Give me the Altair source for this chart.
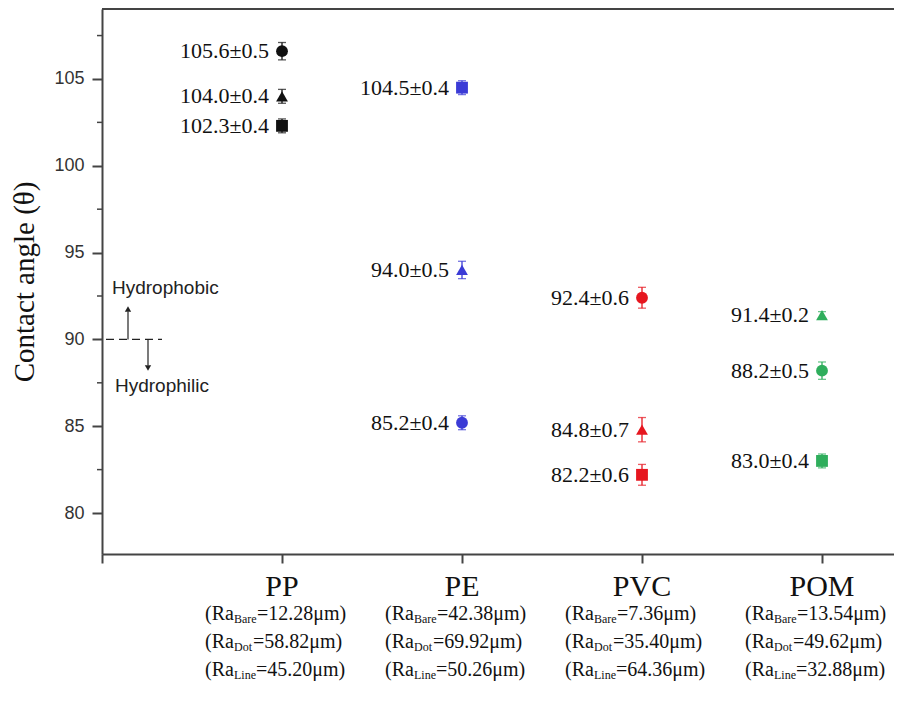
import altair as alt
import pandas as pd

# ---------------- data ----------------
categories = ["PP", "PE", "PVC", "POM"]
positions = [1, 2, 3, 4]
cat_colors = ["#111111", "#3b3bd6", "#e6161f", "#2fae5c"]

circle_y = [106.6, 85.2, 92.4, 88.2]
circle_err = [0.5, 0.4, 0.6, 0.5]
circle_text = ["105.6±0.5", "85.2±0.4", "92.4±0.6", "88.2±0.5"]

triangle_y = [104.0, 94.0, 84.8, 91.4]
triangle_err = [0.4, 0.5, 0.7, 0.2]
triangle_text = ["104.0±0.4", "94.0±0.5", "84.8±0.7", "91.4±0.2"]

square_y = [102.3, 104.5, 82.2, 83.0]
square_err = [0.4, 0.4, 0.6, 0.4]
square_text = ["102.3±0.4", "104.5±0.4", "82.2±0.6", "83.0±0.4"]

ra_bare = ["12.28", "42.38", "7.36", "13.54"]
ra_dot = ["58.82", "69.92", "35.40", "49.62"]
ra_line = ["45.20", "50.26", "64.36", "32.88"]

y_major = [80, 85, 90, 95, 100, 105]
y_minor = [82.5, 87.5, 92.5, 97.5, 102.5, 107.5]
x_ticks = [0, 1, 2, 3, 4]

# ---------------- tables ----------------
rows = []
for shape, ys, es, ts in [("circle", circle_y, circle_err, circle_text),
                          ("triangle-up", triangle_y, triangle_err, triangle_text),
                          ("square", square_y, square_err, square_text)]:
    for c, p, y, e, t in zip(categories, positions, ys, es, ts):
        rows.append({"cat": c, "x": p, "y": y, "lo": y - e, "hi": y + e,
                     "label": t, "shape": shape})
pts = pd.DataFrame(rows)

ra = pd.DataFrame({"cat": categories, "x": positions,
                   "bare": ["=" + v + "μm)" for v in ra_bare],
                   "dot": ["=" + v + "μm)" for v in ra_dot],
                   "line": ["=" + v + "μm)" for v in ra_line],
                   "pre": ["(Ra"] * 4,
                   "sb": ["Bare"] * 4, "sd": ["Dot"] * 4, "sl": ["Line"] * 4})

W, H = 792, 545
SERIF = "Liberation Serif"
SANS = "Liberation Sans"
AX = "#444444"

XS = alt.Scale(domain=[0, W / 180.0], nice=False, zero=False)
YS = alt.Scale(domain=[77.64, 109.03], nice=False, zero=False)

xaxis = alt.Axis(values=x_ticks, labels=False, title=None, tickSize=9,
                 grid=False, domainColor=AX, tickColor=AX, domainWidth=2, tickWidth=2)
yaxis = alt.Axis(values=y_major, title="Contact angle (θ)", titleFont=SERIF,
                 titleFontSize=29, titleFontWeight="normal", titleColor="#111",
                 titlePadding=14, labelFont=SANS, labelFontSize=18, labelColor="#333",
                 labelPadding=8, tickSize=10, grid=False, domainColor=AX, tickColor=AX,
                 domainWidth=2, tickWidth=2)


def X(f="x"):
    return alt.X(f + ":Q", scale=XS, axis=xaxis)


def Y(f="y"):
    return alt.Y(f + ":Q", scale=YS, axis=yaxis)


color = alt.Color("cat:N", scale=alt.Scale(domain=categories, range=cat_colors), legend=None)
shape = alt.Shape("shape:N", scale=alt.Scale(domain=["circle", "triangle-up", "square"],
                                             range=["circle", "triangle-up", "square"]),
                  legend=None)
size = alt.Size("shape:N", scale=alt.Scale(domain=["circle", "triangle-up", "square"],
                                           range=[140, 140, 110]), legend=None)

base = alt.Chart(pts)

err_rule = base.mark_rule(strokeWidth=1.3).encode(x=X(), y=Y("lo"), y2="hi:Q", color=color)
cap_lo = base.mark_tick(orient="horizontal", size=8, thickness=1.3).encode(x=X(), y=Y("lo"), color=color)
cap_hi = base.mark_tick(orient="horizontal", size=8, thickness=1.3).encode(x=X(), y=Y("hi"), color=color)
points = base.mark_point(filled=True, opacity=1).encode(x=X(), y=Y(), color=color, shape=shape, size=size)
labels = base.mark_text(align="right", baseline="middle", dx=-13, font=SERIF,
                        fontSize=22, color="#111").encode(x=X(), y=Y(), text="label:N")

minor = alt.Chart(pd.DataFrame({"y": y_minor})).mark_rule(color=AX, strokeWidth=1.5).encode(
    x=alt.value(-5), x2=alt.value(0), y=Y())

top_border = alt.Chart(pd.DataFrame({"y": [0]})).mark_rule(color=AX, strokeWidth=2).encode(
    x=alt.value(0), x2=alt.value(W), y=alt.value(0))

# hydrophobic / hydrophilic annotation
ann = alt.Chart(pd.DataFrame({"y": [90.0]}))
dash = ann.mark_rule(color="#222", strokeWidth=1.3, strokeDash=[8, 5]).encode(
    x=alt.value(4), x2=alt.value(60), y=Y())
up_shaft = ann.mark_rule(color="#222", strokeWidth=1.2).encode(
    x=alt.value(26), y=Y(), y2=alt.datum(91.6))
up_head = alt.Chart(pd.DataFrame({"y": [91.75]})).mark_point(
    shape="triangle-up", filled=True, size=40, color="#222", opacity=1).encode(x=alt.value(26), y=Y())
dn_shaft = ann.mark_rule(color="#222", strokeWidth=1.2).encode(
    x=alt.value(46), y=Y(), y2=alt.datum(88.5))
dn_head = alt.Chart(pd.DataFrame({"y": [88.35]})).mark_point(
    shape="triangle-down", filled=True, size=40, color="#222", opacity=1).encode(x=alt.value(46), y=Y())
phobic = alt.Chart(pd.DataFrame({"y": [92.96], "t": ["Hydrophobic"]})).mark_text(
    align="left", baseline="middle", font=SANS, fontSize=19, color="#222").encode(
    x=alt.value(10), y=Y(), text="t:N")
philic = alt.Chart(pd.DataFrame({"y": [87.32], "t": ["Hydrophilic"]})).mark_text(
    align="left", baseline="middle", font=SANS, fontSize=19, color="#222").encode(
    x=alt.value(13), y=Y(), text="t:N")

# category labels and roughness lines under the axis
rb = alt.Chart(ra)
cat_lbl = rb.mark_text(align="center", baseline="alphabetic", font=SERIF, fontSize=30,
                       color="#111").encode(x=X(), y=alt.value(587), text="cat:N")
D0 = -48
layers_ra = []
for i, (sub, rest, subw) in enumerate([("sb", "bare", 23), ("sd", "dot", 19), ("sl", "line", 22)]):
    yb = 611 + 28 * i
    layers_ra.append(rb.mark_text(align="right", baseline="alphabetic", dx=D0, font=SERIF,
                                  fontSize=20, color="#111").encode(x=X(), y=alt.value(yb), text="pre:N"))
    layers_ra.append(rb.mark_text(align="left", baseline="alphabetic", dx=D0, font=SERIF,
                                  fontSize=12, color="#111").encode(x=X(), y=alt.value(yb + 3), text=sub + ":N"))
    layers_ra.append(rb.mark_text(align="left", baseline="alphabetic", dx=D0 + subw, font=SERIF,
                                  fontSize=20, color="#111").encode(x=X(), y=alt.value(yb), text=rest + ":N"))

chart = alt.layer(
    err_rule, cap_lo, cap_hi, points, labels, minor, top_border,
    dash, up_shaft, up_head, dn_shaft, dn_head, phobic, philic, cat_lbl, *layers_ra
).properties(
    width=W, height=H,
    autosize=alt.AutoSizeParams(type="none"),
    padding={"left": 94, "top": 1, "right": 0, "bottom": 130},
).configure_view(stroke=None).configure(background="white")

chart.save("out.html", embed_options={"renderer": "svg", "actions": False})
